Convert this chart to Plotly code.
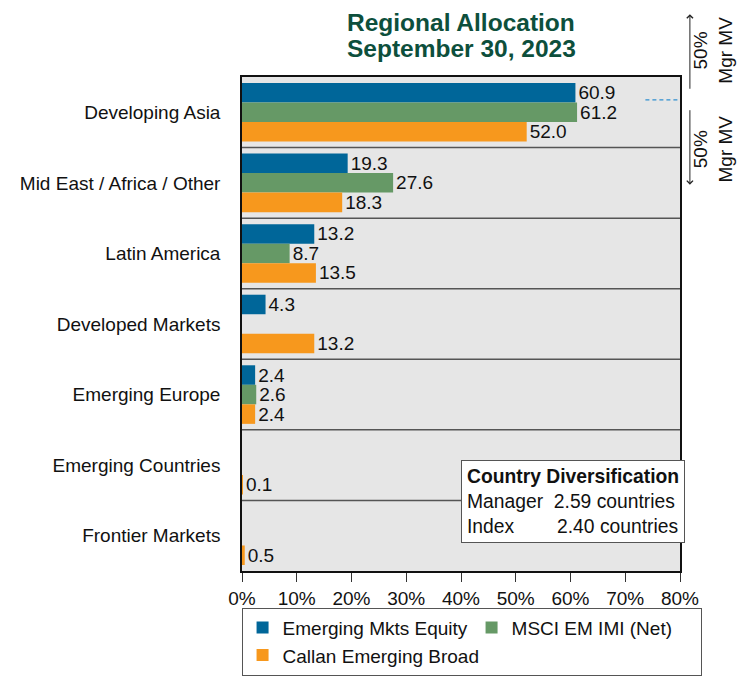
import plotly.graph_objects as go

categories = ["Developing Asia", "Mid East / Africa / Other", "Latin America",
              "Developed Markets", "Emerging Europe", "Emerging Countries", "Frontier Markets"]
manager = [60.9, 19.3, 13.2, 4.3, 2.4, None, None]
index_vals = [61.2, 27.6, 8.7, None, 2.6, None, None]
group = [52.0, 18.3, 13.5, 13.2, 2.4, 0.1, 0.5]
series_names = ["Emerging Mkts Equity", "MSCI EM IMI (Net)", "Callan Emerging Broad"]
colors = ["#006699", "#669966", "#F7981D"]
tick_vals = [0, 10, 20, 30, 40, 50, 60, 70, 80]
tick_text = [f"{v}%" for v in tick_vals]

FONT = "Arial, Liberation Sans, sans-serif"
FS = 19
TXT = "#111"

fig = go.Figure()
for name, vals, col in zip(series_names, [manager, index_vals, group], colors):
    fig.add_trace(go.Bar(
        y=categories, x=vals, name=name, orientation="h",
        marker=dict(color=col, line=dict(width=0)),
        text=[f"{v:.1f}" if v is not None else "" for v in vals],
        textposition="outside", constraintext="none", cliponaxis=False,
        textfont=dict(size=FS, color=TXT, family=FONT),
    ))

shapes = []
for i in range(len(categories) - 1):
    shapes.append(dict(type="line", xref="paper", x0=0, x1=1, yref="y",
                       y0=i + 0.5, y1=i + 0.5, line=dict(color="#555", width=1.5)))
shapes.append(dict(type="line", xref="paper", x0=0.921, x1=1.0, yref="y",
                   y0=-0.176, y1=-0.176, line=dict(color="#2F8FD0", width=1.2, dash="4px,3px")))

nb = "&nbsp;"
annotations = [
    dict(text="<b>Regional Allocation</b>", xref="paper", yref="paper", x=0.5, y=1.111,
         xanchor="center", yanchor="middle", showarrow=False,
         font=dict(size=24.5, color="#0D4F3C", family=FONT)),
    dict(text="<b>September 30, 2023</b>", xref="paper", yref="paper", x=0.5, y=1.0585,
         xanchor="center", yanchor="middle", showarrow=False,
         font=dict(size=24.5, color="#0D4F3C", family=FONT)),
    dict(text=f"<b>Country Diversification</b><br>Manager{nb*2}2.59 countries<br>Index{nb*8}2.40 countries",
         xref="paper", yref="paper", x=0.5, y=0.224, xanchor="left", yanchor="top",
         align="left", showarrow=False, bgcolor="white", bordercolor="#555",
         borderwidth=1, borderpad=5, font=dict(size=19.3, color=TXT, family=FONT)),
    dict(xref="paper", yref="paper", x=1.0226, y=1.127, ax=0, ay=76,
         showarrow=True, arrowhead=4, arrowsize=1.2, arrowwidth=1, arrowcolor="#222", text=""),
    dict(xref="paper", yref="paper", x=1.0226, y=0.782, ax=0, ay=-76,
         showarrow=True, arrowhead=4, arrowsize=1.2, arrowwidth=1, arrowcolor="#222", text=""),
    dict(text="50%<br>Mgr MV", xref="paper", yref="paper", x=1.075, y=1.055,
         xanchor="center", yanchor="middle",
         textangle=-90, showarrow=False, font=dict(size=FS, color=TXT, family=FONT)),
    dict(text="50%<br>Mgr MV", xref="paper", yref="paper", x=1.075, y=0.855,
         xanchor="center", yanchor="middle",
         textangle=-90, showarrow=False, font=dict(size=FS, color=TXT, family=FONT)),
]

fig.update_layout(
    width=739, height=680,
    margin=dict(l=230, r=67, t=69, b=115),
    paper_bgcolor="white", plot_bgcolor="#E6E6E6",
    barmode="group", bargap=0.17, bargroupgap=0,
    font=dict(family=FONT, size=FS, color=TXT),
    xaxis=dict(range=[0, 80], tickvals=tick_vals, ticktext=tick_text,
               showgrid=False, zeroline=False, ticks="outside", ticklen=9,
               tickcolor="#333", showline=True, linecolor="#111", linewidth=1.5,
               mirror=True, tickfont=dict(size=FS, color=TXT), fixedrange=True),
    yaxis=dict(autorange="reversed", showgrid=False, zeroline=False,
               showline=True, linecolor="#111", linewidth=1.5, mirror=True,
               ticks="", ticklabelstandoff=16, tickfont=dict(size=FS, color=TXT)),
    legend=dict(orientation="h", x=-0.001, xanchor="left", y=-0.074, yanchor="top",
                bordercolor="#555", borderwidth=1, entrywidth=184,
                font=dict(size=FS, color=TXT), traceorder="normal"),
    shapes=shapes, annotations=annotations, showlegend=True,
)

fig.write_html("out.html")
